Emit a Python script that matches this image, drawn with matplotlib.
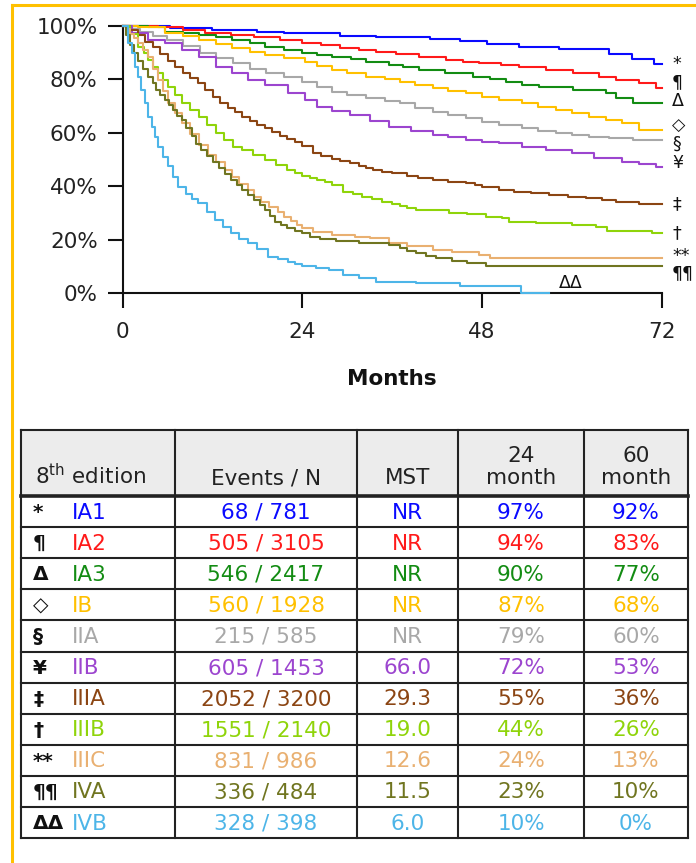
import matplotlib
matplotlib.use('Agg')
import matplotlib.pyplot as plt
from matplotlib.lines import Line2D
from matplotlib.patches import Rectangle

plt.rcParams['font.family'] = ['DejaVu Sans']

# ---- data -------------------------------------------------------------
stages = ['IA1', 'IA2', 'IA3', 'IB', 'IIA', 'IIB', 'IIIA', 'IIIB', 'IIIC', 'IVA', 'IVB']
symbols = ['*', '¶', 'Δ', '◇', '§', '¥', '‡', '†', '**', '¶¶', 'ΔΔ']
colors = ['#0a0aff', '#ff1a1a', '#138c13', '#ffc000', '#a8a8a8', '#9c45cf',
          '#8b4513', '#8fd40a', '#e9b071', '#707520', '#4db5e8']
events = [68, 505, 546, 560, 215, 605, 2052, 1551, 831, 336, 328]
totals = [781, 3105, 2417, 1928, 585, 1453, 3200, 2140, 986, 484, 398]
mst = ['NR', 'NR', 'NR', 'NR', 'NR', '66.0', '29.3', '19.0', '12.6', '11.5', '6.0']
surv24 = [97, 94, 90, 87, 79, 72, 55, 44, 24, 23, 10]
surv60 = [92, 83, 77, 68, 60, 53, 36, 26, 13, 10, 0]
headers = ['8$^{\\mathregular{th}}$ edition', 'Events / N', 'MST', '24\nmonth', '60\nmonth']

# Kaplan-Meier curves (months, % surviving)
t_ia1 = [0, 6.3, 11.9, 18, 21.6, 29, 33.9, 41, 45, 48.7, 53, 58.3, 65, 68, 71, 72]
s_ia1 = [100, 99.4, 98.5, 97.9, 97.3, 96.4, 95.8, 95.1, 94.3, 93.4, 92.3, 91.3, 89.4, 87.5, 85.7, 85.7]
t_ia2 = [0, 4.7, 8, 11, 14.5, 17.6, 21, 24, 26.5, 29, 31.5, 33.9, 36.5, 39.6, 43.2, 45.5, 47.6, 50.5, 53, 56.5,
         60.1, 63.6, 65.9, 69, 71.2, 72]
s_ia2 = [100, 99.5, 98.6, 97.3, 96.5, 95.8, 94.8, 93.8, 92.8, 91.7, 91, 90.4, 89.4, 88.5, 87.3, 86.7, 86, 85.4,
         84.8, 83.5, 82.3, 81, 79.8, 78.6, 76.7, 76.7]
t_ia3 = [0, 3.4, 5.6, 8, 10.2, 12.4, 14.6, 17, 19, 21.5, 24, 26, 28, 30.5, 32.5, 35.6, 37.5, 39.6, 43, 46.8, 49,
         51.2, 53.4, 55.6, 60.1, 64.5, 65.9, 68.1, 72]
s_ia3 = [100, 99.5, 97.9, 97.2, 96.6, 95.8, 94.8, 93.5, 92.3, 91, 89.8, 89.1, 88.5, 87.5, 86.7, 85.4, 84.5, 83.5,
         82.3, 81, 80.1, 79.2, 77.9, 77.3, 76, 74.8, 73, 71.1, 71.1]
t_ib = [0, 2, 5.6, 8, 10.2, 12.4, 14.6, 17, 19, 21.5, 24.3, 26, 28, 30, 32.5, 35, 37, 39, 41.4, 43.5, 45.9, 48,
        50.3, 53.4, 55.5, 57.9, 60, 62.3, 64.5, 66.7, 69, 72]
s_ib = [100, 99.5, 97.3, 96.1, 94.8, 93.2, 91.7, 90.4, 89.2, 88, 86.7, 85, 83.5, 82.3, 81, 80.1, 79.2, 78, 76.7,
        75.7, 74.8, 73.5, 72.3, 71.1, 69.8, 68.6, 67.3, 66.1, 64.8, 63.6, 61, 61]
t_iia = [0, 1, 2.3, 4, 5.9, 8, 10.3, 12.4, 14.7, 17, 19.2, 21.5, 24, 26, 28, 30, 32.5, 35, 37, 39, 41.4, 43.5,
         45.9, 48, 50.3, 53.4, 55.5, 57.9, 60, 62.3, 65, 68.1, 72]
s_iia = [100, 99, 97.9, 96.3, 94.8, 92.5, 89.8, 88, 86, 84, 82.3, 81, 79.2, 77.3, 75.4, 74.2, 73, 72, 71.1, 69.5,
         67.9, 66.7, 65.5, 64.2, 63, 61.7, 60.9, 60.1, 59.4, 58.6, 58, 57.4, 57.4]
t_iib = [0, 1.2, 3.4, 5.6, 7.9, 10.2, 12.4, 14.6, 16.8, 19, 22.1, 24.3, 25.9, 28, 30.3, 33, 35.6, 38.5, 41.4,
         43.5, 45.9, 48, 50.3, 53.4, 56.5, 60, 63, 66.7, 69, 71.2, 72]
s_iib = [100, 97.3, 94.8, 93.5, 91, 88.5, 84.8, 82.3, 79.8, 77.9, 74.8, 72.3, 69.8, 68.3, 66.7, 64.5, 62.3, 60.7,
         59.2, 58.3, 57.4, 56.7, 56.1, 54.8, 53.6, 52.4, 50.8, 49.2, 48.3, 47.4, 47.4]
t_iiia = [0, 1, 2, 3, 4, 5, 6, 7, 8, 9, 10, 11, 12, 13, 14, 15, 16, 17, 18, 19, 20, 21, 22, 23, 24, 25.4, 26.5,
          28, 29, 30.3, 31.5, 32.5, 33.5, 34.7, 36, 38, 39.5, 41.4, 43.5, 45.9, 47, 48, 50.3, 52.3, 54.5, 57,
          59.5, 61.9, 64, 65.9, 69, 72]
s_iiia = [100, 98.5, 96.5, 94, 92, 89.5, 87, 84.5, 82.5, 80.5, 78.6, 76, 73.6, 71.2, 69.5, 67.8, 66, 64.5, 63,
          61.8, 60.2, 59, 57.8, 56.5, 55, 52.5, 51.5, 50.2, 49.4, 48.6, 47.8, 47, 46.2, 45.5, 45, 44, 43.2, 42.4,
          41.8, 41.2, 40.5, 39.8, 38.6, 38, 37.4, 36.8, 36.2, 35.5, 35, 34.3, 33.4, 33.4]
t_iiib = [0, 1, 2.1, 2.8, 3.4, 4, 4.7, 5.4, 6.1, 7, 7.9, 9, 10.2, 11.3, 12.4, 13.5, 14.7, 15.9, 17.4, 19, 20.5,
          22, 23, 24, 25, 26, 27, 28, 29.4, 30.7, 32, 33.3, 34.7, 36, 37, 38, 39.2, 43.6, 46, 48.5, 50.7, 51.6,
          55.2, 60, 63.2, 64.7, 70.7, 72]
s_iiib = [100, 97, 92.3, 89.8, 87.3, 84.8, 82.3, 79.8, 77.3, 74.2, 71.1, 68.6, 66.1, 63, 59.9, 57.3, 54.8, 53.6,
          51.7, 49.9, 48, 46, 45, 44, 43.3, 42.5, 41.5, 40.5, 38, 37, 36, 35.2, 34.3, 33.3, 32.5, 31.8, 31.2,
          30.2, 29.5, 28.7, 28, 26.8, 26.2, 25.6, 24.7, 23.4, 22.4, 22.4]
t_iiic = [0, 0.5, 1, 1.5, 2.1, 2.7, 3.4, 4, 4.7, 5.4, 6.1, 7, 7.9, 9, 10.2, 11.4, 12.5, 13.6, 14.6, 15.6, 16.7,
          17.6, 18.5, 19.6, 20.7, 21.6, 22.5, 23.3, 24, 25.4, 28, 31, 33, 35.6, 38, 41.4, 44, 47.6, 49, 72]
s_iiic = [100, 98.8, 97, 95.5, 93.5, 91, 88.5, 84, 79.8, 75.5, 71.1, 67.3, 63.6, 59.5, 55.5, 51.7, 49, 46.1,
          43.5, 41, 38.6, 36.2, 34, 32.2, 30.5, 28.6, 27, 25.6, 24.5, 23, 21.8, 21.2, 20.6, 18.7, 17.8, 16.2,
          15.4, 14.3, 13.1, 13.1]
t_iva = [0, 0.5, 1, 1.5, 2, 2.7, 3.4, 4, 4.5, 5, 5.6, 6.2, 6.7, 7.3, 7.9, 8.5, 9.2, 9.8, 10.5, 11.2, 12, 12.8,
         13.6, 14.5, 15.3, 16, 16.8, 17.5, 18.3, 19, 19.7, 20.3, 21.2, 22, 23, 23.9, 25, 26.3, 28.5, 31.6, 35.6,
         37, 38, 39.2, 40.5, 41.9, 44, 46, 48.5, 72]
s_iva = [100, 96.5, 93, 90, 87, 84, 81, 78.5, 76, 74, 72.3, 70.3, 68.5, 66.5, 64.8, 62, 59, 56, 53.6, 51.2, 49,
         46.8, 44.5, 42.4, 40.4, 38.5, 36.6, 35, 33, 31.2, 29, 26.8, 25.6, 24.5, 23.4, 22.5, 21.2, 20.2, 19.6,
         18.9, 18.1, 16.8, 15.8, 15, 14, 13.1, 12.2, 11.4, 10.2, 10.2]
t_ivb = [0, 0.75, 1.2, 1.6, 2.1, 2.5, 3, 3.4, 3.9, 4.3, 4.7, 5.4, 6, 6.7, 7.4, 8.5, 9.3, 10.1, 11.2, 12.3, 13.4,
         14.5, 15.6, 16.7, 18, 19.4, 20.7, 22.1, 23, 23.9, 25.8, 27.6, 29.4, 31.5, 33.9, 39.2, 45, 53.2, 57]
s_ivb = [100, 93.5, 89.8, 84.8, 81, 76, 71.1, 66.1, 62.3, 58.6, 54.8, 51.1, 47.5, 43.5, 39.9, 37, 35.3, 33.7,
         30.5, 27.4, 24.8, 22.4, 20.5, 18.7, 16.5, 13.7, 12.8, 11.8, 11, 10.2, 9.6, 8.7, 6.8, 5.8, 4.4, 3.7, 2.9,
         0, 0]

times = [t_ia1, t_ia2, t_ia3, t_ib, t_iia, t_iib, t_iiia, t_iiib, t_iiic, t_iva, t_ivb]
survs = [s_ia1, s_ia2, s_ia3, s_ib, s_iia, s_iib, s_iiia, s_iiib, s_iiic, s_iva, s_ivb]

# end-of-curve marker label positions (months, %)
label_x = [73.4] * 10 + [59.9]
label_y = [85.6, 78.9, 71.8, 62.8, 56.1, 48.7, 33.4, 22.6, 14.1, 7.5, 3.7]

# ---- figure -----------------------------------------------------------
W, H = 696, 863
fig = plt.figure(figsize=(W / 100, H / 100), dpi=100)
fs = 15.5

# table drawn in pixel coordinates on an overlay axes
tab = fig.add_axes([0, 0, 1, 1])
tab.set_xlim(0, W)
tab.set_ylim(H, 0)
tab.axis('off')

gold = '#ffc000'
tab.add_line(Line2D([11.5, W], [5, 5], color=gold, lw=2.2))
tab.add_line(Line2D([11.5, 11.5], [5, H], color=gold, lw=2.2))

col_edges = [21, 175, 357, 458, 584, 688]
head_top, head_bot = 430, 496
row_h = 31.1
table_bot = head_bot + row_h * len(stages)
line_col = '#222222'

tab.add_patch(Rectangle((col_edges[0], head_top), col_edges[-1] - col_edges[0],
                        head_bot - head_top, facecolor='#ececec', edgecolor='none'))
for x in col_edges:
    tab.add_line(Line2D([x, x], [head_top, table_bot], color=line_col, lw=1.5))
tab.add_line(Line2D([col_edges[0], col_edges[-1]], [head_top, head_top], color=line_col, lw=1.5))
tab.add_line(Line2D([col_edges[0], col_edges[-1]], [head_bot, head_bot], color=line_col, lw=2.6))
for i in range(len(stages)):
    yb = head_bot + row_h * (i + 1)
    tab.add_line(Line2D([col_edges[0], col_edges[-1]], [yb, yb], color=line_col, lw=1.5))

# header
tab.text(35, 488, headers[0], fontsize=fs, ha='left', va='bottom', color='#222222')
for j, h in enumerate(headers[1:], start=1):
    cx = (col_edges[j] + col_edges[j + 1]) / 2
    tab.text(cx, 488, h, fontsize=fs, ha='center', va='bottom', color='#222222',
             linespacing=1.15)

# body
for i, st in enumerate(stages):
    cy = head_bot + row_h * (i + 0.5) + 1
    c = colors[i]
    tab.text(33, cy, symbols[i], fontsize=fs - 1, ha='left', va='center', color='#111111',
             fontweight='bold')
    tab.text(72, cy, st, fontsize=fs, ha='left', va='center', color=c)
    vals = ['%d / %d' % (events[i], totals[i]), mst[i], '%d%%' % surv24[i], '%d%%' % surv60[i]]
    for j, v in enumerate(vals, start=1):
        cx = (col_edges[j] + col_edges[j + 1]) / 2
        tab.text(cx, cy, v, fontsize=fs, ha='center', va='center', color=c)

# survival plot
left, right, top, bottom = 122.7, 661.7, 26, 293.3
ax = fig.add_axes([left / W, 1 - bottom / H, (right - left) / W, (bottom - top) / H])
ax.patch.set_alpha(0)
for t, s, c in zip(times, survs, colors):
    ax.plot(t, s, drawstyle='steps-post', color=c, lw=1.5, clip_on=False, zorder=3)

for sym, lx, ly in zip(symbols, label_x, label_y):
    ax.text(lx, ly, sym, fontsize=12.5, ha='left' if lx > 72 else 'center', va='center',
            color='#111111', clip_on=False)

ax.set_xlim(0, 72)
ax.set_ylim(0, 100)
ax.set_xticks([0, 24, 48, 72])
ax.set_yticks([0, 20, 40, 60, 80, 100])
ax.set_yticklabels(['%d%%' % v for v in [0, 20, 40, 60, 80, 100]])
for side in ['top', 'right']:
    ax.spines[side].set_visible(False)
for side in ['left', 'bottom']:
    ax.spines[side].set_linewidth(1.5)
    ax.spines[side].set_color('#111111')
ax.tick_params(axis='both', direction='out', length=11, width=1.5, colors='#111111',
               labelsize=fs, labelcolor='#222222')
ax.tick_params(axis='y', pad=7)
ax.tick_params(axis='x', pad=10)
ax.set_xlabel('Months', fontsize=fs, fontweight='bold', labelpad=19, color='#111111')

fig.savefig('out.png', dpi=100)
